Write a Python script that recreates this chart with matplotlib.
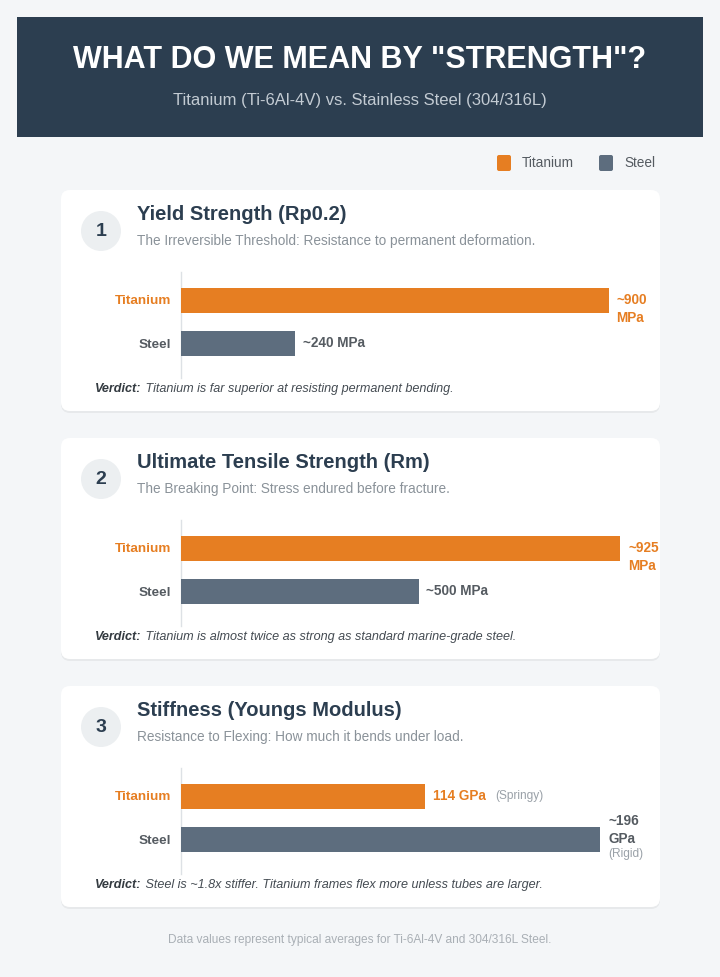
import matplotlib
matplotlib.use("Agg")
import matplotlib.pyplot as plt
from matplotlib.patches import FancyBboxPatch, Rectangle, Circle

plt.rcParams['font.family'] = ['Liberation Sans', 'DejaVu Sans']

W, H = 720, 977

# --- data ---
materials = ["Titanium", "Steel"]
card_numbers = ["1", "2", "3"]
card_titles = ["Yield Strength (Rp0.2)",
               "Ultimate Tensile Strength (Rm)",
               "Stiffness (Youngs Modulus)"]
card_subtitles = ["The Irreversible Threshold: Resistance to permanent deformation.",
                  "The Breaking Point: Stress endured before fracture.",
                  "Resistance to Flexing: How much it bends under load."]
yield_mpa = [900, 240]
tensile_mpa = [925, 500]
stiffness_gpa = [114, 196]
card_values = [yield_mpa, tensile_mpa, stiffness_gpa]
card_scale_max = [1000, 1000, 222]
value_labels = [["~900\nMPa", "~240 MPa"],
                ["~925\nMPa", "~500 MPa"],
                ["114 GPa", "~196\nGPa"]]
value_notes = [["", ""], ["", ""], ["(Springy)", "(Rigid)"]]
verdicts = ["Titanium is far superior at resisting permanent bending.",
            "Titanium is almost twice as strong as standard marine-grade steel.",
            "Steel is ~1.8x stiffer. Titanium frames flex more unless tubes are larger."]
title = 'WHAT DO WE MEAN BY "STRENGTH"?'
subtitle = "Titanium (Ti-6Al-4V) vs. Stainless Steel (304/316L)"
footer = "Data values represent typical averages for Ti-6Al-4V and 304/316L Steel."

ORANGE = "#e67e22"
SLATE = "#5d6d7e"
DARK = "#2c3e50"
colors = [ORANGE, SLATE]
label_colors = [ORANGE, "#555b61"]


def px(v):
    # pixels -> points
    return v * 72 / 100


fig = plt.figure(figsize=(W / 100, H / 100), dpi=100, facecolor="#f4f6f8")
bg = fig.add_axes([0, 0, 1, 1], zorder=0)
bg.set_xlim(0, W)
bg.set_ylim(H, 0)
bg.axis("off")

# header
bg.add_patch(Rectangle((17, 17), 686, 120, color=DARK, lw=0))
bg.text(360, 60, title, color="white", fontsize=22, fontweight="bold",
        ha="center", va="center")
bg.text(360, 100, subtitle, color="#c3cbd3", fontsize=12, ha="center", va="center")

# legend
for x0, name, c in [(497, "Titanium", ORANGE), (599, "Steel", SLATE)]:
    bg.add_patch(FancyBboxPatch((x0, 155), 14, 16, boxstyle="round,pad=0,rounding_size=2",
                                color=c, lw=0))
    bg.text(x0 + 25, 163, name, color="#555b61", fontsize=9.8, va="center")

card_tops = [190, 438, 686]
card_h = 221
for k, top in enumerate(card_tops):
    # shadow + card
    bg.add_patch(FancyBboxPatch((61, top + 2), 599, card_h, boxstyle="round,pad=0,rounding_size=9",
                                color="#000000", alpha=0.05, lw=0))
    bg.add_patch(FancyBboxPatch((61, top), 599, card_h, boxstyle="round,pad=0,rounding_size=9",
                                color="white", lw=0))
    bg.add_patch(Circle((101, top + 41), 20, color="#eceff1", lw=0))
    bg.text(101, top + 41, card_numbers[k], color=DARK, fontsize=14, fontweight="bold",
            ha="center", va="center")
    bg.text(137, top + 24, card_titles[k], color=DARK, fontsize=14.5, fontweight="bold",
            va="center")
    bg.text(137, top + 51, card_subtitles[k], color="#8a9299", fontsize=9.8, va="center")

    v = bg.text(95, top + 199, "Verdict:", color="#333a40", fontsize=9.1, fontweight="bold",
                style="italic", va="center")
    bg.annotate(" " + verdicts[k], xy=(1, 0), xycoords=v, va="bottom", ha="left",
                color="#444b52", fontsize=9.1, style="italic")

    # bar chart axes: from x=181 to 656, y from top+82 to top+188
    ax_top, ax_bot = top + 82, top + 188
    ax = fig.add_axes([181 / W, 1 - ax_bot / H, 475 / W, (ax_bot - ax_top) / H], zorder=2)
    ax.patch.set_alpha(0)
    unit = 43.0
    y0 = -(110 - 82) / unit
    y1 = 1 + (188 - 153) / unit
    ax.set_ylim(y1, y0)
    ax.set_xlim(0, card_scale_max[k])
    ax.barh([0, 1], card_values[k], height=25 / unit, color=colors, zorder=3)
    for s in ["top", "right", "bottom"]:
        ax.spines[s].set_visible(False)
    ax.spines["left"].set_color("#dde1e5")
    ax.spines["left"].set_linewidth(1.0)
    ax.set_xticks([])
    ax.set_yticks([0, 1])
    ax.set_yticklabels(materials, fontsize=9.7, fontweight="bold")
    ax.tick_params(axis="y", length=0, pad=px(10))
    for t, c in zip(ax.get_yticklabels(), label_colors):
        t.set_color(c)

    for i in range(2):
        lab = value_labels[k][i]
        note = value_notes[k][i]
        lines = lab.count("\n") + 1
        if lines == 1:
            dy, va = 0, "center"
        elif note:
            dy, va = 9, "center"
        else:
            dy, va = -9, "center"
        t = ax.annotate(lab, xy=(card_values[k][i], i), xytext=(px(8), px(dy)),
                        textcoords="offset points", va=va, ha="left",
                        color=label_colors[i], fontsize=9.8, fontweight="bold",
                        linespacing=1.35, annotation_clip=False)
        if note and lines == 1:
            ax.annotate(note, xy=(1, 0.5), xycoords=t, xytext=(px(9), 0),
                        textcoords="offset points", va="center", ha="left",
                        color="#9aa1a8", fontsize=8.6)
        elif note:
            ax.annotate(note, xy=(0, 0), xycoords=t, xytext=(0, -px(2)),
                        textcoords="offset points", va="top", ha="left",
                        color="#9aa1a8", fontsize=8.6)

bg.text(360, 940, footer, color="#a9afb5", fontsize=8.6, ha="center", va="center")

fig.savefig("out.png", dpi=100, facecolor=fig.get_facecolor())
